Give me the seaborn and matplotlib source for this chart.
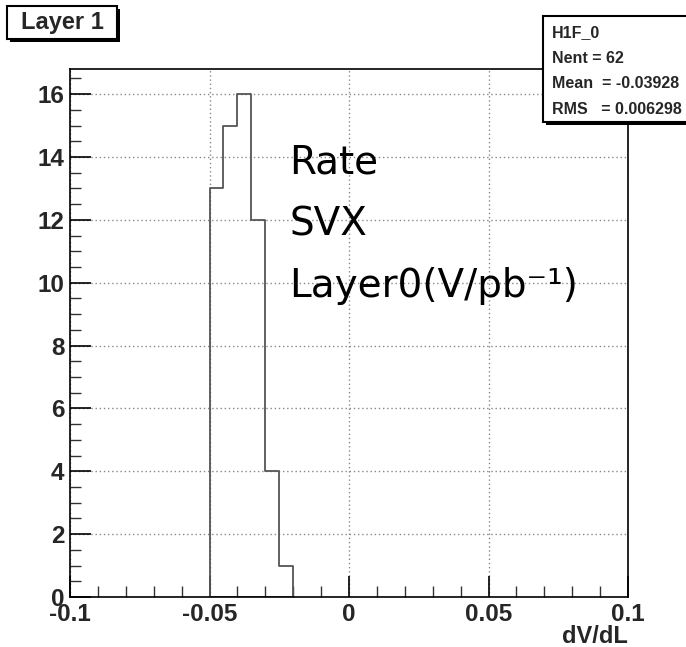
import numpy as np
import pandas as pd
import matplotlib
matplotlib.use("Agg")
import matplotlib.pyplot as plt
from matplotlib.patches import Rectangle
from matplotlib.ticker import MultipleLocator
import seaborn as sns

# ---- data ----
bin_edges = [-0.05, -0.045, -0.04, -0.035, -0.03, -0.025, -0.02]
counts = [13, 15, 16, 12, 4, 1]
x_ticks = [-0.1, -0.05, 0, 0.05, 0.1]
x_tick_labels = ["-0.1", "-0.05", "0", "0.05", "0.1"]
y_ticks = [0, 2, 4, 6, 8, 10, 12, 14, 16]
title_text = "Layer 1"
stats_lines = ["H1F_0", "Nent = 62", "Mean  = -0.03928", "RMS   = 0.006298"]
annot_lines = ["Rate", "SVX", "Layer0(V/pb⁻¹)"]
x_label = "dV/dL"

centers = [(bin_edges[i] + bin_edges[i + 1]) / 2 for i in range(len(counts))]
df = pd.DataFrame({"x": centers, "w": counts})

sns.set_style("white")
plt.rcParams["font.family"] = ["Liberation Sans", "DejaVu Sans"]

W, H = 686, 647
fig = plt.figure(figsize=(W / 100, H / 100), dpi=100)
ax = fig.add_axes([70 / W, 1 - 597 / H, 558 / W, 528 / H])

sns.histplot(data=df, x="x", weights="w", bins=bin_edges, element="step",
             fill=True, color="#555555", linewidth=1.3, ax=ax, legend=False)
for coll in ax.collections:
    coll.set_facecolor("none")
    coll.set_edgecolor("#555555")
    coll.set_alpha(1.0)
    coll.set_linewidth(1.3)

ax.set_xlim(-0.1, 0.1)
ax.set_ylim(0, 16.8)
ax.set_xticks(x_ticks)
ax.set_xticklabels(x_tick_labels, fontsize=17.5, fontweight="bold")
ax.set_yticks(y_ticks)
ax.set_yticklabels([str(v) for v in y_ticks], fontsize=17.5, fontweight="bold")
ax.xaxis.set_minor_locator(MultipleLocator(0.01))
ax.yaxis.set_minor_locator(MultipleLocator(0.5))
ax.tick_params(which="major", direction="in", length=15, width=1.2, color="black", pad=4)
ax.tick_params(which="minor", direction="in", length=8, width=1.0, color="#333333")
ax.tick_params(axis="both", which="both", top=False, right=False, bottom=True, left=True)
ax.grid(True, which="major", linestyle=(0, (1, 2)), color="#888888", linewidth=1.0)
ax.set_axisbelow(True)
for s in ax.spines.values():
    s.set_visible(True)
    s.set_color("black")
    s.set_linewidth(1.2)
ax.set_xlabel("")
ax.set_ylabel("")

fig.text(628 / W, 1 - 643 / H, x_label, ha="right", va="baseline",
         fontsize=17, fontweight="bold")

# annotation text
for i, line in enumerate(annot_lines):
    fig.text(289 / W, 1 - (173 + 62 * i) / H, line, fontsize=28,
             family=["DejaVu Sans"], ha="left", va="baseline", color="black")

# title box with shadow (pixel coordinates)
fig.patches.append(Rectangle((10, H - 42), 110, 33, transform=None,
                             facecolor="black", edgecolor="none", zorder=5))
fig.patches.append(Rectangle((7, H - 39), 110, 33, transform=None,
                             facecolor="white", edgecolor="black", linewidth=1.5, zorder=6))
fig.text(62 / W, 1 - 23 / H, title_text, ha="center", va="center", fontsize=17,
         fontweight="bold", zorder=7)

# stats box with shadow
fig.patches.append(Rectangle((546, H - 125), 200, 106, transform=None,
                             facecolor="black", edgecolor="none", zorder=5))
fig.patches.append(Rectangle((543, H - 122), 200, 106, transform=None,
                             facecolor="white", edgecolor="black", linewidth=1.5, zorder=6))
for i, line in enumerate(stats_lines):
    fig.text(552 / W, 1 - (33 + 25.5 * i) / H, line, ha="left", va="center",
             fontsize=11.5, fontweight="bold", zorder=7)

fig.savefig("out.png", dpi=100)
